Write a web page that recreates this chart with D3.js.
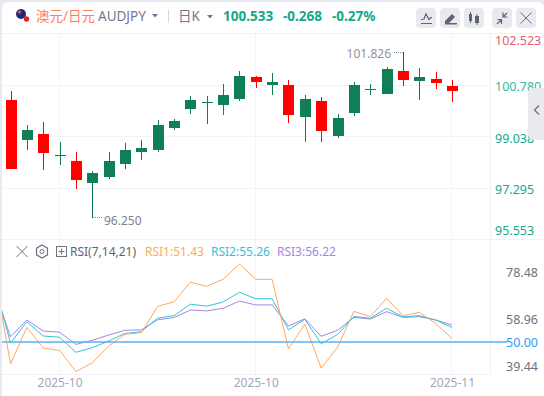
<!DOCTYPE html>
<html><head><meta charset="utf-8">
<script src="https://cdn.jsdelivr.net/npm/d3@7"></script>
<style>html,body{margin:0;padding:0;background:#e8eaf1;overflow:hidden}svg{display:block}text{font-family:"Noto Sans","Noto Sans CJK SC",sans-serif}</style>
</head><body><svg id="c" width="544" height="396"></svg>
<script>
const opens  =[100.256,98.903,99.106,98.396,98.193,97.448,97.651,98.091,98.497,98.565,99.309,99.952,100.189,100.087,100.290,101.035,100.764,100.764,99.681,100.223,99.038,99.817,100.629,100.460,101.238,100.899,100.967,100.730];
const closes =[97.932,99.241,98.473,98.396,97.550,97.787,98.193,98.565,98.632,99.411,99.546,100.256,100.189,100.426,101.069,100.866,100.866,99.749,100.290,99.208,99.647,100.764,100.629,101.305,100.933,101.035,100.832,100.561];
const highs  =[100.561,99.411,99.512,98.835,98.497,97.854,98.497,98.802,98.903,99.580,99.614,100.392,100.392,100.798,101.238,101.069,101.170,100.933,100.426,100.358,99.783,100.866,100.798,101.373,101.881,101.339,101.204,100.933];
const lows   =[97.922,98.565,97.888,98.057,97.245,96.264,97.584,97.922,98.226,98.497,99.241,99.783,99.444,99.749,100.223,100.663,100.426,99.478,98.835,98.835,98.971,99.715,100.426,100.460,100.730,100.256,100.629,100.189];
const rsi1=[80.1,40.8,56.1,47.5,46.5,37.6,41.3,48.3,53.2,53.9,64.9,66.8,75,73.3,76.2,82.6,76.2,76.2,47.1,57.5,39.1,47.8,62.8,60.6,68.3,61,62.4,57.8,51.43];
const rsi2=[74.9,49.5,58.5,52.5,52,45.7,47.6,50.4,53.6,54.3,60,61,65.8,65,66.7,70.8,68.1,68.1,55.1,59.5,49.3,53.1,60.7,59.9,64.1,60.5,61,59.2,56.1];
const rsi3=[72.2,52.2,59.2,54.6,54.1,49,50.7,52.9,54.9,55.1,59.3,60.2,63.4,63,64.1,67.1,65.5,65.5,56.7,59.7,52.4,54.9,60.3,59.6,62.7,60.3,60.6,59.2,57.1];
const priceTicks=[102.523,100.780,99.038,97.295,95.553];
const rsiTicks=[78.48,58.96,39.44];
const rsiBase=[50];
const xTickIdx=[3,15,27];
const xTickLabels=["2025-10","2025-10","2025-11"];
const maxLabel="101.826", minLabel="96.250";
const maxIdx=24, minIdx=5;

const W=544,H=396;
const svg=d3.select("#c");
const x=d3.scaleLinear().domain([0,27]).range([10.5,452]);
const y=d3.scaleLinear().domain([95.553,102.523]).range([239,33]);
const yR=d3.scaleLinear().domain([50,78.48]).range([342,273.9]);
const GREEN="#0f8056",RED="#ff0000",GRID="#f3f4f8";

svg.append("path").attr("fill","#fff").attr("d",`M2 8a6 6 0 0 1 6-6H538a6 6 0 0 1 6 6V${H}H2Z`);

const g=svg.append("g");
g.append("g").selectAll("line").data(priceTicks.slice(1,4)).join("line")
 .attr("x1",2).attr("x2",490).attr("y1",d=>Math.round(y(d))+.5).attr("y2",d=>Math.round(y(d))+.5).attr("stroke",GRID);
g.append("g").selectAll("line").data(xTickIdx).join("line")
 .attr("x1",d=>Math.round(x(d))-.5).attr("x2",d=>Math.round(x(d))-.5).attr("y1",33).attr("y2",374).attr("stroke",GRID);
[[2,W,33.5,33.5],[2,W,239.5,239.5],[2,490,374.5,374.5],[490.5,490.5,33,374]].forEach(a=>
 g.append("line").attr("x1",a[0]).attr("x2",a[1]).attr("y1",a[2]).attr("y2",a[3]).attr("stroke","#f0f1f5"));

const cand=svg.append("g").selectAll("g").data(opens.map((o,i)=>({i,o,c:closes[i],h:highs[i],l:lows[i]}))).join("g");
const col=d=>d.c<d.o?RED:GREEN;
cand.append("line").attr("x1",d=>Math.round(x(d.i))+.5).attr("x2",d=>Math.round(x(d.i))+.5)
 .attr("y1",d=>Math.round(y(d.h))).attr("y2",d=>Math.round(y(d.l))).attr("stroke",col);
cand.append("rect").attr("x",d=>Math.round(x(d.i))-5).attr("width",11)
 .attr("y",d=>Math.round(y(Math.max(d.o,d.c))))
 .attr("height",d=>Math.max(1,Math.round(y(Math.min(d.o,d.c)))-Math.round(y(Math.max(d.o,d.c)))))
 .attr("fill",col);

const mx=Math.round(x(maxIdx)),my=Math.round(y(highs[maxIdx]));
svg.append("line").attr("x1",mx-9).attr("x2",mx).attr("y1",my+.5).attr("y2",my+.5).attr("stroke","#8a8e9c").attr("stroke-dasharray","1 1");
svg.append("text").attr("x",mx-12).attr("y",my+6).attr("text-anchor","end").attr("font-size",12).attr("fill","#8f93a1").text(maxLabel);
const nx=Math.round(x(minIdx)),ny=Math.round(y(lows[minIdx]));
svg.append("line").attr("x1",nx+1).attr("x2",nx+10).attr("y1",ny-.5).attr("y2",ny-.5).attr("stroke","#8a8e9c").attr("stroke-dasharray","1 1");
svg.append("text").attr("x",nx+12).attr("y",ny+7).attr("font-size",12).attr("fill","#7d8190").text(minLabel);

const priceAxis=d3.axisRight(y).tickValues(priceTicks).tickFormat(d3.format(".3f")).tickSize(0);
const pa=svg.append("g").attr("transform","translate(490,0)").call(priceAxis);
pa.select(".domain").remove();
pa.selectAll("text").attr("font-size",12.5).attr("font-family",null).attr("x",5)
 .attr("fill",d=>d>100.78?"#e4606d":d===100.78?"#35b7a2":"#13a88c")
 .attr("transform",d=>`translate(0,${d===102.523?7:d===95.553?-9:2})`);

svg.append("path").attr("fill","#e9eaf0").attr("d","M544 88H534a6 6 0 0 0-6 6V134a6 6 0 0 0 6 6H544Z");
svg.append("path").attr("fill","none").attr("stroke","#6f7483").attr("stroke-width",1.3).attr("d","M539 105.5l-4.5 4.5 4.5 4.5");

const rx=i=>x(i-1);
svg.append("clipPath").attr("id","rc").append("rect").attr("x",2).attr("y",240).attr("width",488).attr("height",134);
const line=d3.line().x((d,i)=>rx(i)).y(d=>yR(d));
const rg=svg.append("g").attr("clip-path","url(#rc)");
[[rsi3,"#a585e6"],[rsi2,"#2fc4dc"],[rsi1,"#ffa85c"]].forEach(([s,c])=>
 rg.append("path").attr("d",line(s)).attr("fill","none").attr("stroke",c).attr("stroke-width",1));
svg.selectAll(".base").data(rsiBase).join("line").attr("class","base").attr("x1",2).attr("x2",507)
 .attr("y1",d=>yR(d)).attr("y2",d=>yR(d)).attr("stroke","#58b1f5").attr("stroke-width",1.4);
const ra=svg.append("g").attr("transform","translate(490,0)").call(d3.axisRight(yR).tickValues(rsiTicks).tickFormat(d3.format(".2f")).tickSize(0));
ra.select(".domain").remove();
ra.selectAll("text").attr("font-size",12.5).attr("font-family",null).attr("x",48).attr("text-anchor","end").attr("fill","#6f7380").attr("transform","translate(0,-1)");
svg.selectAll(".bl").data(rsiBase).join("text").attr("class","bl").attr("x",538).attr("y",d=>yR(d)+4.5).attr("text-anchor","end").attr("font-size",12.5).attr("fill","#2f9bf5").text(d=>d3.format(".2f")(d));

const xa=svg.append("g").attr("transform","translate(0,374)").call(d3.axisBottom(x).tickValues(xTickIdx).tickFormat((d,i)=>xTickLabels[i]).tickSize(0));
xa.select(".domain").remove();
xa.selectAll("text").attr("font-size",12).attr("font-family",null).attr("fill","#a4a7b3").attr("y",4);

const lg=[["RSI(7,14,21)",70,"#5f6370"],["RSI1:51.43",145,"#ffa85c"],["RSI2:55.26",211,"#2fc4dc"],["RSI3:56.22",277,"#a585e6"]];
svg.selectAll(".lg").data(lg).join("text").attr("class","lg").attr("x",d=>d[1]).attr("y",256).attr("font-size",12).attr("fill",d=>d[2]).text(d=>d[0]);
const I="#6d7180";
svg.append("path").attr("stroke",I).attr("fill","none").attr("stroke-width",1).attr("d","M16.500 246l11 11M27.500 246l-11 11");
svg.append("path").attr("stroke",I).attr("fill","none").attr("stroke-width",1.2).attr("d","M42 245l5.500 3.200v6.600l-5.500 3.200-5.500-3.200v-6.600Z");
svg.append("circle").attr("cx",42).attr("cy",251.500).attr("r",2).attr("fill","none").attr("stroke",I);
svg.append("rect").attr("x",56.500).attr("y",246.500).attr("width",10).attr("height",10).attr("fill","none").attr("stroke",I);
svg.append("path").attr("stroke",I).attr("d","M58.500 251.500h6M61.500 248.500v6");

const H1=[["澳元/日元",36,"#ff7d5c",13.5,400],["AUDJPY",98,"#73788a",13.5,400],["日K",178,"#73788a",13.5,400],["100.533",223,"#13a88c",13.5,700],["-0.268",283,"#13a88c",13.5,700],["-0.27%",332,"#13a88c",13.5,700]];
svg.selectAll(".h").data(H1).join("text").attr("class","h").attr("x",d=>d[1]).attr("y",21).attr("fill",d=>d[2]).attr("font-size",d=>d[3]).attr("font-weight",d=>d[4]).text(d=>d[0]);
[[152,14],[207,15]].forEach(([a,b])=>svg.append("path").attr("fill","#73788a").attr("d",`M${a} ${b}h6l-3 3.500Z`));
svg.append("rect").attr("x",168).attr("y",10).attr("width",1).attr("height",13).attr("fill","#d4d6de");
// flag
svg.append("circle").attr("cx",21).attr("cy",14).attr("r",5).attr("fill","#1c2a78");
svg.append("circle").attr("cx",19.500).attr("cy",12).attr("r",1.800).attr("fill","#d9505c");
svg.append("circle").attr("cx",26.500).attr("cy",19).attr("r",2.700).attr("fill","#f01c20");
// buttons
[416,440,464,492,516].forEach(bx=>svg.append("rect").attr("x",bx).attr("y",8).attr("width",20).attr("height",20).attr("rx",4).attr("fill","#e8eaf0"));
const ic=svg.append("g").attr("stroke","#5f6472").attr("fill","none").attr("stroke-width",1.2);
ic.append("path").attr("d","M421 19.500l3-.500 2-5 3 5.500 2-2h1M421 23.500h11");
ic.append("path").attr("fill","#5f6472").attr("stroke","none").attr("d","M445 21l7-7 3 3-7 7h-3ZM445 23h12v1.500h-12Z");
ic.append("path").attr("fill","#5f6472").attr("stroke","none").attr("d","M469 14h3v7h-3ZM470 12h1v11h-1ZM475 16h4v7h-4ZM476.500 14h1v11h-1Z");
ic.append("path").attr("d","M497 24l4-4M507 13l-4 4M501.500 24v-4.500h-4M503 12.500v4.500h4.500");
ic.append("path").attr("stroke","#6d7180").attr("stroke-width",1).attr("d","M520.500 12.500l11 11M531.500 12.500l-11 11");
</script></body></html>
